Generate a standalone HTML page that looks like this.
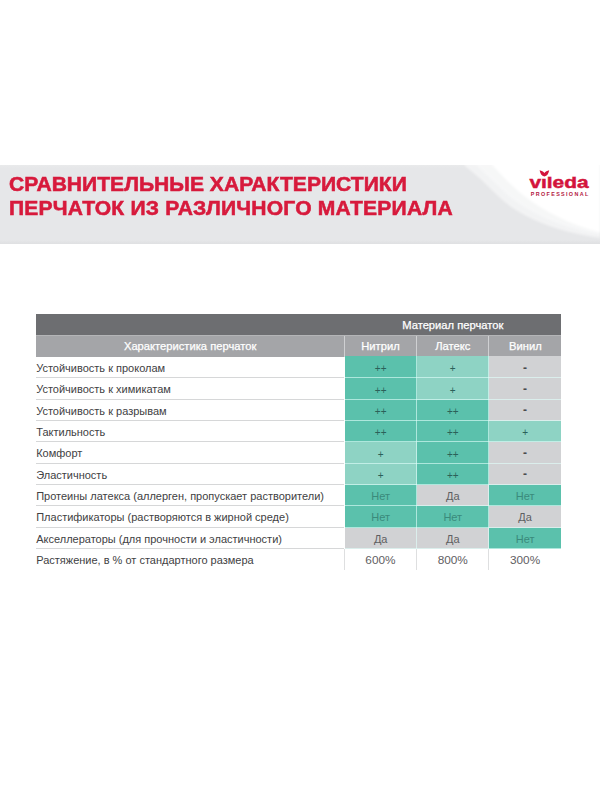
<!DOCTYPE html>
<html><head><meta charset="utf-8">
<style>
html,body{margin:0;padding:0;}
body{width:600px;height:800px;background:#fff;position:relative;overflow:hidden;font-family:"Liberation Sans",sans-serif;}
#banner{position:absolute;left:0;top:164.7px;width:600px;height:79px;overflow:hidden;}
.t{position:absolute;left:8.8px;transform-origin:0 0;font-weight:bold;font-size:20.2px;line-height:24px;color:#d71a3c;white-space:nowrap;-webkit-text-stroke:0.55px #d71a3c;}
#t1{top:171.5px;transform:scaleX(1.044);}
#t2{top:195.5px;letter-spacing:0.19px;transform:scaleX(1.044);}
#tbl{position:absolute;left:36px;top:314px;width:526px;height:260px;}
.h{position:absolute;color:#fff;-webkit-text-stroke:0.25px #fff;font-size:11.2px;text-align:center;white-space:nowrap;}
.r{position:absolute;left:0;width:526px;height:21.35px;font-size:11px;color:#414143;}
.l{position:absolute;left:0;top:0;width:307.8px;height:20.35px;line-height:22.8px;padding-left:0.2px;white-space:nowrap;border-bottom:1px solid #d6d7d8;}
.l.nb{border-bottom:none;}
.c{position:absolute;top:0;height:21.35px;line-height:23.2px;text-align:center;white-space:nowrap;}
.d{background:#5bc1ac;color:#3a8a7b;}
.m{background:#8ed3c4;color:#3f8f81;}
.g{background:#d1d2d4;color:#5e5f62;}
.hl{position:absolute;top:20.35px;height:1px;background:rgba(225,255,250,0.62);}
.vl{position:absolute;width:1px;background:rgba(225,255,250,0.62);}
.w{border-left:1px solid #dedfe0;color:#5f6063;font-size:11.8px;line-height:22px;box-sizing:border-box;height:21.35px;}
.s{font-size:10px;position:relative;top:0.5px;color:#2b6159;}
.g .s{color:#4a4b4d;font-weight:bold;font-size:12px;top:-0.3px;}
</style></head><body>
<svg id="banner" viewBox="0 0 600 79" preserveAspectRatio="none">
<defs><filter id="bl" x="-5%" y="-20%" width="110%" height="140%"><feGaussianBlur stdDeviation="0.8"/></filter></defs>
<defs><linearGradient id="bg" x1="0" y1="0" x2="0" y2="1"><stop offset="0" stop-color="#e9eaeb"/><stop offset="0.04" stop-color="#e6e7e9"/><stop offset="0.95" stop-color="#e6e7e9"/><stop offset="1" stop-color="#dfe0e2"/></linearGradient></defs>
<rect x="0" y="0" width="600" height="79" fill="url(#bg)"/>
<path d="M466,2 C480,12 492,26 506,38 C530,57 565,68 600,73 L600,-6 L462,-6 Z" fill="#fff" opacity="0.5" filter="url(#bl)"/>
<path d="M478,2 C490,12 500,24 514,35 C538,53 570,64 600,70 L600,-6 L474,-6 Z" fill="#fff" opacity="0.35" filter="url(#bl)"/>
<path d="M492.5,0 C505,14 514,23 525,31.5 C545,47 570,59.5 600,67.5 L600,-6 L487,-6 Z" fill="#fff" filter="url(#bl)"/>
</svg>
<svg id="logo" style="position:absolute;left:520px;top:160px" width="80" height="44" viewBox="520 160 80 44"><defs><clipPath id="cp"><rect x="520" y="176.7" width="80" height="20"/></clipPath></defs>
<path d="M544.4,176.6 C541.6,176 540.2,173.4 539.6,170.2 C541.6,170.6 543.4,171.4 544.4,173 C545.4,171.4 547.2,170.6 549.2,170.2 C548.6,173.4 547.2,176 544.4,176.6 Z" fill="#d3143c"/>
<text clip-path="url(#cp)" x="529.4" y="187.9" font-family="Liberation Sans, sans-serif" font-size="15.6" font-weight="bold" fill="#d3143c" stroke="#d3143c" stroke-width="0.45" textLength="59.2" lengthAdjust="spacingAndGlyphs">vıleda</text>
<text x="530.8" y="195.8" font-family="Liberation Sans, sans-serif" font-size="5.4" font-weight="bold" fill="#b3203f" textLength="57.4" lengthAdjust="spacing">PROFESSIONAL</text>
</svg>
<div class="t" id="t1">СРАВНИТЕЛЬНЫЕ ХАРАКТЕРИСТИКИ</div>
<div class="t" id="t2">ПЕРЧАТОК ИЗ РАЗЛИЧНОГО МАТЕРИАЛА</div>

<div id="tbl">
<div style="position:absolute;left:0;top:0;width:525.3px;height:21px;background:#6d6e71;"></div>
<div class="h" style="left:308.3px;top:0;width:217px;height:21px;line-height:22.2px;">Материал перчаток</div>
<div style="position:absolute;left:0;top:21px;width:525.3px;height:21.5px;background:#a4a5a8;border-top:1px solid #b4b5b7;box-sizing:border-box"></div>
<div class="h" style="left:0;top:21px;width:308.3px;height:21.5px;line-height:22.8px;">Характеристика перчаток</div>
<div class="h" style="left:307.8px;top:21.5px;width:72.3px;height:21px;line-height:21.8px;border-left:1px solid #cfd0d2;box-sizing:border-box">Нитрил</div>
<div class="h" style="left:380.1px;top:21.5px;width:72.3px;height:21px;line-height:21.8px;border-left:1px solid #cfd0d2;box-sizing:border-box">Латекс</div>
<div class="h" style="left:452.4px;top:21.5px;width:72.9px;height:21px;line-height:21.8px;border-left:1px solid #cfd0d2;box-sizing:border-box">Винил</div>
<div class="r" style="top:42.90px">
<div class="l">Устойчивость к проколам</div>
<div class="c d" style="left:308.80px;width:71.80px;top:-0.9px;padding-top:0.9px"><span class="s">++</span></div>
<div class="c m" style="left:380.60px;width:72.30px;top:-0.9px;padding-top:0.9px"><span class="s">+</span></div>
<div class="c g" style="left:452.90px;width:72.40px;top:-0.9px;padding-top:0.9px"><span class="s">-</span></div>
<div class="hl" style="left:308.80px;width:216.50px"></div>
</div>
<div class="r" style="top:64.25px">
<div class="l">Устойчивость к химикатам</div>
<div class="c d" style="left:308.80px;width:71.80px"><span class="s">++</span></div>
<div class="c m" style="left:380.60px;width:72.30px"><span class="s">+</span></div>
<div class="c g" style="left:452.90px;width:72.40px"><span class="s">-</span></div>
<div class="hl" style="left:308.80px;width:216.50px"></div>
</div>
<div class="r" style="top:85.60px">
<div class="l">Устойчивость к разрывам</div>
<div class="c d" style="left:308.80px;width:71.80px"><span class="s">++</span></div>
<div class="c d" style="left:380.60px;width:72.30px"><span class="s">++</span></div>
<div class="c g" style="left:452.90px;width:72.40px"><span class="s">-</span></div>
<div class="hl" style="left:308.80px;width:216.50px"></div>
</div>
<div class="r" style="top:106.95px">
<div class="l">Тактильность</div>
<div class="c d" style="left:308.80px;width:71.80px"><span class="s">++</span></div>
<div class="c d" style="left:380.60px;width:72.30px"><span class="s">++</span></div>
<div class="c m" style="left:452.90px;width:72.40px"><span class="s">+</span></div>
<div class="hl" style="left:308.80px;width:216.50px"></div>
</div>
<div class="r" style="top:128.30px">
<div class="l">Комфорт</div>
<div class="c m" style="left:308.80px;width:71.80px"><span class="s">+</span></div>
<div class="c d" style="left:380.60px;width:72.30px"><span class="s">++</span></div>
<div class="c g" style="left:452.90px;width:72.40px"><span class="s">-</span></div>
<div class="hl" style="left:308.80px;width:216.50px"></div>
</div>
<div class="r" style="top:149.65px">
<div class="l">Эластичность</div>
<div class="c m" style="left:308.80px;width:71.80px"><span class="s">+</span></div>
<div class="c d" style="left:380.60px;width:72.30px"><span class="s">++</span></div>
<div class="c g" style="left:452.90px;width:72.40px"><span class="s">-</span></div>
<div class="hl" style="left:308.80px;width:216.50px"></div>
</div>
<div class="r" style="top:171.00px">
<div class="l">Протеины латекса (аллерген, пропускает растворители)</div>
<div class="c d" style="left:308.80px;width:71.80px">Нет</div>
<div class="c g" style="left:380.60px;width:72.30px">Да</div>
<div class="c d" style="left:452.90px;width:72.40px">Нет</div>
<div class="hl" style="left:308.80px;width:216.50px"></div>
</div>
<div class="r" style="top:192.35px">
<div class="l">Пластификаторы (растворяются в жирной среде)</div>
<div class="c d" style="left:308.80px;width:71.80px">Нет</div>
<div class="c d" style="left:380.60px;width:72.30px">Нет</div>
<div class="c g" style="left:452.90px;width:72.40px">Да</div>
<div class="hl" style="left:308.80px;width:216.50px"></div>
</div>
<div class="r" style="top:213.70px">
<div class="l">Акселлераторы (для прочности и эластичности)</div>
<div class="c g" style="left:308.80px;width:71.80px">Да</div>
<div class="c g" style="left:380.60px;width:72.30px">Да</div>
<div class="c d" style="left:452.90px;width:72.40px">Нет</div>
<div class="hl" style="left:308.80px;width:216.50px"></div>
</div>
<div class="r" style="top:235.05px">
<div class="l nb">Растяжение, в % от стандартного размера</div>
<div class="c w" style="left:307.80px;width:72.30px">600%</div>
<div class="c w" style="left:380.10px;width:72.30px">800%</div>
<div class="c w" style="left:452.40px;width:72.40px">300%</div>
</div>
<div class="vl" style="left:380.10px;top:42.00px;height:193.05px"></div>
<div class="vl" style="left:452.40px;top:42.00px;height:193.05px"></div>
</div>
</body></html>
